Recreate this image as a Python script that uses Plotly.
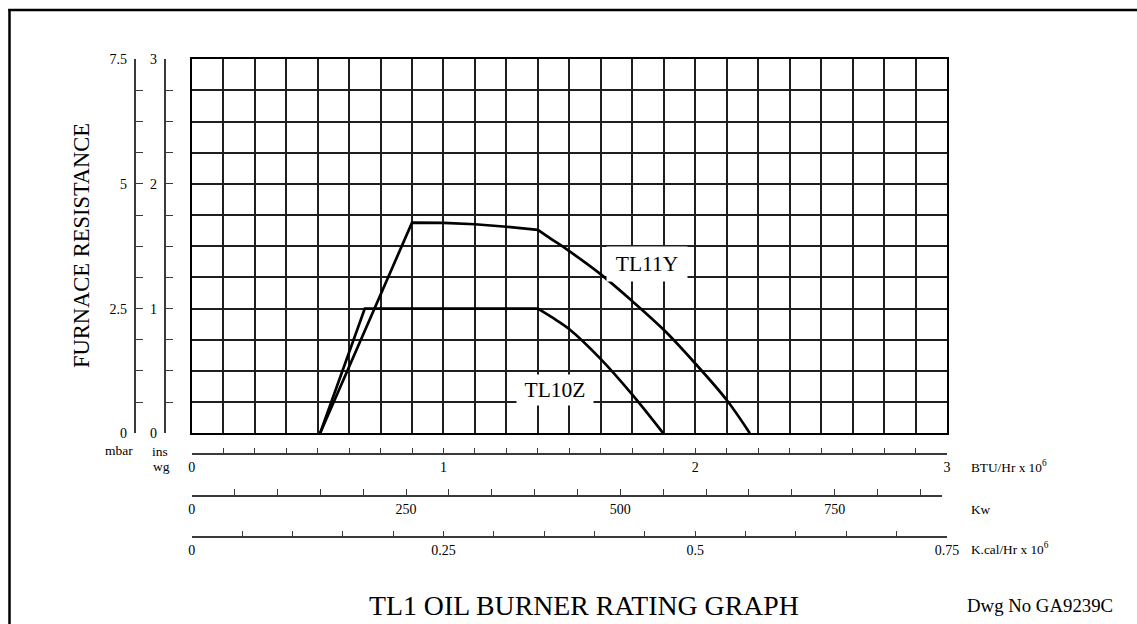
import plotly.graph_objects as go

FONT = "Liberation Serif, Times New Roman, serif"
W, H = 1137, 624

# ---- data (BTU/Hr x 10^6 vs furnace resistance in ins wg) ----
tl11y_btu = [0.51, 0.875, 1.0, 1.125, 1.25, 1.375, 1.43, 1.49, 1.625, 1.75, 1.875, 2.0, 2.125, 2.217]
tl11y_ins = [0.0, 1.69, 1.688, 1.677, 1.657, 1.632, 1.556, 1.475, 1.275, 1.06, 0.83, 0.56, 0.267, 0.0]
tl11y_knee = 5          # index where the curved (falling) part starts
tl10z_btu = [0.51, 0.6875, 1.0, 1.375, 1.435, 1.50, 1.625, 1.75, 1.873]
tl10z_ins = [0.0, 1.0, 1.0, 1.0, 0.925, 0.835, 0.595, 0.31, 0.0]
tl10z_knee = 3

# axis scales
btu_range, btu_major, btu_minor = [0, 3], 1, 0.125
kw_range, kw_major, kw_minor = [0, 875], 250, 50
kcal_range, kcal_major, kcal_minor = [0, 0.75], 0.25, 0.05
ins_range, ins_major, ins_minor = [0, 3], 1, 0.25
mbar_range, mbar_major, mbar_minor = [0, 7.5], 2.5, 0.625

curve_names = ["TL11Y", "TL10Z"]


def px(x):
    return x / W


def py(y):
    return 1 - y / H


XDOM = [px(191.7), px(947)]
YDOM = [py(433.3), py(59.3)]
AXC = "#3a3a3a"
GRIDC = "#1e1e1e"

fig = go.Figure()
for name, xs, ys, k in [(curve_names[0], tl11y_btu, tl11y_ins, tl11y_knee),
                        (curve_names[1], tl10z_btu, tl10z_ins, tl10z_knee)]:
    fig.add_trace(go.Scatter(x=xs[:k + 1], y=ys[:k + 1], mode="lines", name=name,
                             line=dict(color="black", width=2.7), hoverinfo="skip"))
    fig.add_trace(go.Scatter(x=xs[k:], y=ys[k:], mode="lines", name=name,
                             line=dict(color="black", width=2.7, shape="spline", smoothing=1.0),
                             hoverinfo="skip"))
# carriers for the extra scales
fig.add_trace(go.Scatter(x=[], y=[], xaxis="x", yaxis="y2", showlegend=False))
fig.add_trace(go.Scatter(x=[], y=[], xaxis="x", yaxis="y3", showlegend=False))
fig.add_trace(go.Scatter(x=[], y=[], xaxis="x2", yaxis="y5", showlegend=False))
fig.add_trace(go.Scatter(x=[], y=[], xaxis="x3", yaxis="y5", showlegend=False))
fig.add_trace(go.Scatter(x=[], y=[], xaxis="x4", yaxis="y5", showlegend=False))

tickfont = dict(family=FONT, size=14, color="black")


def bottom_axis(rng, major, minor, pos, dom):
    return dict(domain=dom, anchor="free", position=pos, range=rng, automargin=False,
                tick0=0, dtick=major, ticks="inside", ticklen=6, tickwidth=1.3,
                tickcolor=AXC, showline=True, linecolor=AXC, linewidth=1.5,
                showgrid=False, zeroline=False, tickfont=tickfont,
                minor=dict(tick0=0, dtick=minor, ticks="inside", ticklen=6,
                           tickwidth=1.3, tickcolor=AXC, showgrid=False),
                fixedrange=True)


def left_axis(rng, major, minor, pos):
    return dict(overlaying="y", anchor="free", position=pos, side="left", range=rng,
                automargin=False, ticklabelstandoff=4,
                tick0=0, dtick=major, ticks="inside", ticklen=7.5, tickwidth=1.3,
                tickcolor=AXC, showline=True, linecolor=AXC, linewidth=1.5,
                showgrid=False, zeroline=False, tickfont=tickfont,
                minor=dict(tick0=0, dtick=minor, ticks="inside", ticklen=7.5,
                           tickwidth=1.3, tickcolor=AXC, showgrid=False),
                fixedrange=True)


fig.update_layout(
    width=W, height=H, margin=dict(l=0, r=0, t=0, b=0, pad=0, autoexpand=False),
    paper_bgcolor="white", plot_bgcolor="rgba(0,0,0,0)",
    showlegend=False,
    font=dict(family=FONT, color="black"),
    xaxis=dict(domain=XDOM, range=btu_range, tick0=0, dtick=btu_minor, automargin=False,
               showgrid=True, gridcolor=GRIDC, gridwidth=1.6,
               showline=True, linecolor="black", linewidth=2, mirror=True,
               showticklabels=False, ticks="", zeroline=False, fixedrange=True),
    yaxis=dict(domain=YDOM, range=ins_range, tick0=0, dtick=ins_minor, automargin=False,
               showgrid=True, gridcolor=GRIDC, gridwidth=1.6,
               showline=True, linecolor="black", linewidth=2, mirror=True,
               showticklabels=False, ticks="", zeroline=False, fixedrange=True),
    yaxis2=left_axis(mbar_range, mbar_major, mbar_minor, px(134.5)),
    yaxis3=left_axis(ins_range, ins_major, ins_minor, px(164.5)),
    yaxis5=dict(domain=YDOM, range=[0, 1], visible=False, fixedrange=True, automargin=False),
    xaxis2=bottom_axis(btu_range, btu_major, btu_minor, py(454.3), XDOM),
    xaxis3=bottom_axis(kw_range, kw_major, kw_minor, py(496), [px(191.7), px(941.8)]),
    xaxis4=bottom_axis(kcal_range, kcal_major, kcal_minor, py(537.3), XDOM),
)

ann = []


def note(text, x, y, size, xanchor="center", angle=0, **kw):
    ann.append(dict(text=text, x=px(x), y=py(y), xref="paper", yref="paper",
                    xanchor=xanchor, yanchor="middle", showarrow=False, textangle=angle,
                    font=dict(family=FONT, size=size, color="black"), **kw))


note("FURNACE RESISTANCE", 82, 246, 22.5, angle=-90)
note("mbar", 119, 450, 13.5)
note("ins", 160, 451, 13.5)
note("wg", 161, 466, 13.5)
note("BTU/Hr x 10<sup>6</sup>", 969, 466, 13.3, xanchor="left")
note("Kw", 969, 509, 13.3, xanchor="left")
note("K.cal/Hr x 10<sup>6</sup>", 969, 548, 13.3, xanchor="left")
note("TL1 OIL BURNER RATING GRAPH", 584, 605, 27.8)
note("Dwg No GA9239C", 1040, 605, 18.8)

# curve labels (in data coordinates) with white boxes over the grid
ann.append(dict(text=curve_names[0], x=1.81, y=1.358, xref="x", yref="y", showarrow=False,
                font=dict(family=FONT, size=21.5, color="black"), bgcolor="white",
                width=72, height=26, borderpad=4, xanchor="center", yanchor="middle"))
ann.append(dict(text=curve_names[1], x=1.443, y=0.351, xref="x", yref="y", showarrow=False,
                font=dict(family=FONT, size=21.5, color="black"), bgcolor="white",
                width=68, height=22, borderpad=4, xanchor="center", yanchor="middle"))
fig.update_layout(annotations=ann)

# drawing frame
fig.add_shape(type="line", xref="paper", yref="paper", x0=px(9.5), x1=px(9.5), y0=0, y1=py(9),
              line=dict(color="black", width=2.5))
fig.add_shape(type="line", xref="paper", yref="paper", x0=px(8.3), x1=1, y0=py(10), y1=py(10),
              line=dict(color="black", width=2.5))

post = (
    "document.documentElement.style.margin='0';document.body.style.margin='0';"
    "document.body.style.padding='0';document.body.style.overflow='hidden';"
    "document.documentElement.style.overflow='hidden';"
    "var gd=document.getElementById('{plot_id}');"
    "gd.style.position='fixed';gd.style.left='0px';gd.style.top='0px';"
)
fig.write_html("out.html", config={"displayModeBar": False}, post_script=post)
